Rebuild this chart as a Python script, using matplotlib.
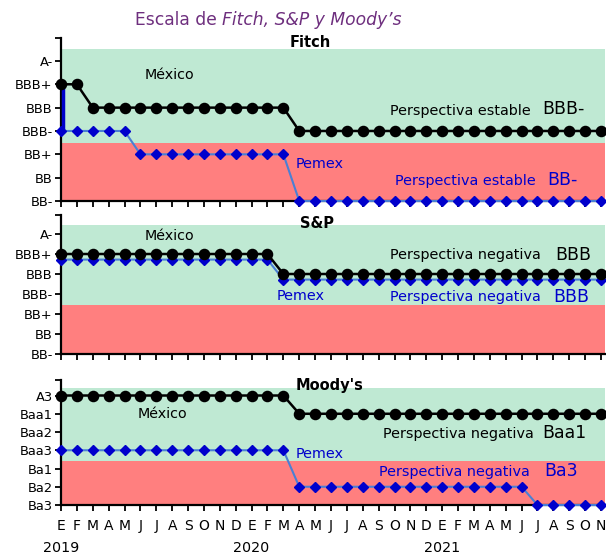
import matplotlib
matplotlib.use('Agg')
import matplotlib.pyplot as plt
from matplotlib.transforms import blended_transform_factory

# ---------------- data ----------------
months = ['E', 'F', 'M', 'A', 'M', 'J', 'J', 'A', 'S', 'O', 'N', 'D',
          'E', 'F', 'M', 'A', 'M', 'J', 'J', 'A', 'S', 'O', 'N', 'D',
          'E', 'F', 'M', 'A', 'M', 'J', 'J', 'A', 'S', 'O', 'N']
years = ['2019', '2020', '2021']
year_index = [0, 12, 24]

sp_fitch_labels = ['BB-', 'BB', 'BB+', 'BBB-', 'BBB', 'BBB+', 'A-']
moodys_labels = ['Ba3', 'Ba2', 'Ba1', 'Baa3', 'Baa2', 'Baa1', 'A3']

# rating scale index: 0 = lowest label shown
fitch_mexico = [5] * 2 + [4] * 13 + [3] * 20
fitch_pemex = [3] * 5 + [2] * 10 + [0] * 20
fitch_pemex_prev = 5
sp_mexico = [5] * 14 + [4] * 21
sp_pemex = [4.72] * 14 + [3.72] * 21
moodys_mexico = [6] * 15 + [5] * 20
moodys_pemex = [3] * 15 + [1] * 15 + [0] * 5

# ---------------- style ----------------
GREEN = '#BFE9D3'
RED = '#FF7F7F'
BLUE_M = '#0000CC'
BLUE_L = '#4A7FD4'
PURPLE = '#6E2F7E'
FONT = 'DejaVu Sans'

W, H = 606, 556
fig = plt.figure(figsize=(W / 100, H / 100), dpi=100)

def axes_px(top, bottom, left=61, right=605):
    return fig.add_axes([left / W, 1 - bottom / H, (right - left) / W, (bottom - top) / H])

x = list(range(len(months)))

def setup(ax, ylabels, ytop, green_lo, green_hi, bottom_labels=False):
    ax.set_xlim(0, 34.25)
    ax.set_ylim(0, ytop)
    ax.axhspan(green_lo, green_hi, color=GREEN, lw=0, zorder=0)
    ax.axhspan(0, green_lo, color=RED, lw=0, zorder=0)
    for s in ['top', 'right']:
        ax.spines[s].set_visible(False)
    for s in ['left', 'bottom']:
        ax.spines[s].set_linewidth(1.6)
        ax.spines[s].set_color('black')
    ax.set_yticks(list(range(len(ylabels))) + [ytop])
    ax.set_yticklabels(ylabels + [''], fontsize=9.4, family=FONT)
    ax.tick_params(axis='y', direction='out', length=4, width=1.3, pad=2)
    ax.set_xticks(x)
    if bottom_labels:
        ax.set_xticklabels(months, fontsize=10, family=FONT)
    else:
        ax.set_xticklabels([])
    ax.tick_params(axis='x', direction='out', length=4, width=1.3, pad=6)

def plot_series(ax, mex, pem):
    ax.plot(x, pem, color=BLUE_L, lw=1.5, marker='D', ms=5.5, mfc=BLUE_M, mec=BLUE_M,
            clip_on=False, zorder=3)
    ax.plot(x, mex, color='black', lw=1.8, marker='o', ms=7.3, mfc='black', mec='black',
            clip_on=False, zorder=4)

def txt(ax, xx, yy, s, color='black', size=10, ha='left', weight='normal'):
    ax.text(xx, yy, s, color=color, fontsize=size, ha=ha, va='center',
            family=FONT, weight=weight, zorder=5)

PS = 10.4
BS = 12.5

# ---------------- Fitch ----------------
ax1 = axes_px(37.6, 201)
setup(ax1, sp_fitch_labels, 7.0, 2.5, 6.5)
ax1.plot([0.1, 0.1], [fitch_pemex_prev, fitch_pemex[0]], color=BLUE_M, lw=2.5,
         clip_on=False, zorder=3)
plot_series(ax1, fitch_mexico, fitch_pemex)
txt(ax1, 15.7, 6.78, 'Fitch', size=10.5, ha='center', weight='bold')
txt(ax1, 6.85, 5.4, 'México', size=10.3, ha='center')
txt(ax1, 20.7, 3.86, 'Perspectiva estable', size=PS)
txt(ax1, 30.3, 3.92, 'BBB-', size=BS)
txt(ax1, 14.8, 1.6, 'Pemex', color=BLUE_M, size=PS)
txt(ax1, 21.0, 0.86, 'Perspectiva estable', color=BLUE_M, size=PS)
txt(ax1, 30.6, 0.92, 'BB-', color=BLUE_M, size=BS)

# ---------------- S&P ----------------
ax2 = axes_px(215, 354)
setup(ax2, sp_fitch_labels, 6.95, 2.45, 6.45)
plot_series(ax2, sp_mexico, sp_pemex)
txt(ax2, 16.1, 6.55, 'S&P', size=10.5, ha='center', weight='bold')
txt(ax2, 6.8, 5.9, 'México', size=10.3, ha='center')
txt(ax2, 20.7, 4.95, 'Perspectiva negativa', size=PS)
txt(ax2, 31.1, 4.95, 'BBB', size=BS)
txt(ax2, 13.6, 2.9, 'Pemex', color=BLUE_M, size=PS)
txt(ax2, 20.7, 2.85, 'Perspectiva negativa', color=BLUE_M, size=PS)
txt(ax2, 31.0, 2.85, 'BBB', color=BLUE_M, size=BS)

# ---------------- Moody's ----------------
ax3 = axes_px(380, 505)
setup(ax3, moodys_labels, 6.85, 2.4, 6.4, bottom_labels=True)
plot_series(ax3, moodys_mexico, moodys_pemex)
txt(ax3, 16.9, 6.55, "Moody's", size=10.5, ha='center', weight='bold')
txt(ax3, 6.4, 5.0, 'México', size=10.3, ha='center')
txt(ax3, 20.3, 3.9, 'Perspectiva negativa', size=PS)
txt(ax3, 30.3, 3.95, 'Baa1', size=BS)
txt(ax3, 14.8, 2.8, 'Pemex', color=BLUE_M, size=PS)
txt(ax3, 20.0, 1.8, 'Perspectiva negativa', color=BLUE_M, size=PS)
txt(ax3, 30.4, 1.85, 'Ba3', color=BLUE_M, size=BS)

trans = blended_transform_factory(ax3.transData, fig.transFigure)
for yi, yl in zip(year_index, years):
    ax3.text(yi, 1 - 548 / H, yl, transform=trans, ha='center', va='center',
             fontsize=10.3, family=FONT)

# ---------------- title ----------------
t1 = fig.text(135 / W, 1 - 20 / H, 'Escala de ', color=PURPLE, fontsize=12.3,
              family=FONT, ha='left', va='center')
ann = plt.annotate("Fitch, S&P y Moody’s", xy=(1, 0.5), xycoords=t1, color=PURPLE,
                   fontsize=12.3, family=FONT, style='italic', ha='left', va='center',
                   annotation_clip=False)

fig.savefig('out.png', dpi=100)
